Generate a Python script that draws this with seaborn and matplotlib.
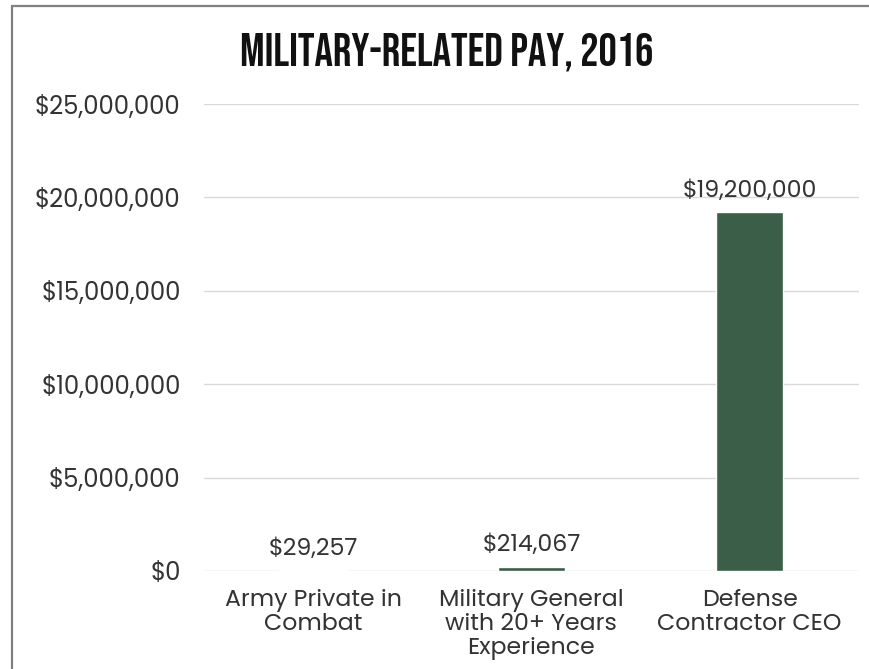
import matplotlib
matplotlib.use("Agg")
import matplotlib.pyplot as plt
import seaborn as sns
import pandas as pd
from matplotlib.ticker import FuncFormatter

# data
categories = ["Army Private in\nCombat", "Military General\nwith 20+ Years\nExperience", "Defense\nContractor CEO"]
pay = [29257, 214067, 19200000]
value_labels = ["$29,257", "$214,067", "$19,200,000"]
y_ticks = [0, 5000000, 10000000, 15000000, 20000000, 25000000]

sns.set_style("white")
plt.rcParams['font.family'] = ['Poppins', 'Lato', 'DejaVu Sans']

df = pd.DataFrame({"job": categories, "pay": pay})

fig = plt.figure(figsize=(8.7, 6.69), dpi=100)
ax = fig.add_axes([0.2345, 0.1465, 0.7525, 0.698])

sns.barplot(data=df, x="job", y="pay", color="#3a5e47", saturation=1, width=0.31, ax=ax, zorder=3)

ax.set_ylim(0, 25000000)
ax.set_yticks(y_ticks)
ax.yaxis.set_major_formatter(FuncFormatter(lambda v, p: f"${v:,.0f}"))
ax.grid(axis="y", color="#d9d9d9", linewidth=1, zorder=0)
ax.set_xlabel("")
ax.set_ylabel("")
for s in ["top", "right", "left", "bottom"]:
    ax.spines[s].set_visible(False)
ax.tick_params(axis="y", labelsize=17.5, labelcolor="#333333", length=0, pad=17)
ax.tick_params(axis="x", labelsize=17, labelcolor="#333333", length=0, pad=13)
for lbl in ax.get_xticklabels():
    lbl.set_linespacing(1.06)

for i, (v, t) in enumerate(zip(pay, value_labels)):
    ax.annotate(t, (i, v), xytext=(0, 7), textcoords="offset points",
                ha="center", va="bottom", fontsize=17, color="#333333")

fig.text(0.513, 0.922, "MILITARY-RELATED PAY, 2016", ha="center", va="center",
         fontsize=33, color="#111111", family=["Bebas Neue", "DejaVu Sans"])

# frame lines on top and left
fig.add_artist(plt.Line2D([0.0138, 1.0], [0.9915, 0.9915], color="#808080", linewidth=1.6, transform=fig.transFigure))
fig.add_artist(plt.Line2D([0.0138, 0.0138], [0.0, 0.9915], color="#808080", linewidth=1.6, transform=fig.transFigure))

fig.savefig("out.png", dpi=100)
